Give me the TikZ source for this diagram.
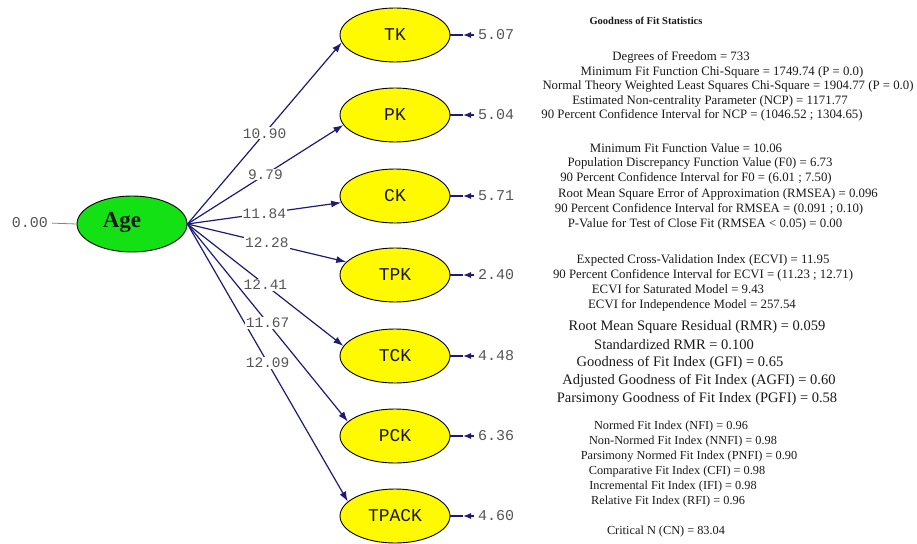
\documentclass[tikz,border=0pt]{standalone}
\usepackage{fontspec}
\setmainfont{Liberation Serif}
\newfontfamily\monof{Liberation Mono}
\usetikzlibrary{arrows.meta,shapes.geometric,calc}
\definecolor{navy}{RGB}{28,28,118}
\definecolor{lisyellow}{RGB}{255,250,0}
\definecolor{lisgreen}{RGB}{20,225,20}
\definecolor{labgray}{RGB}{85,85,85}
\definecolor{txt}{RGB}{25,25,25}
\definecolor{thingray}{RGB}{130,130,130}
\begin{document}
\begin{tikzpicture}[x=1pt,y=-1pt,
  latent/.style={ellipse,draw=black,line width=0.9pt,fill=lisyellow,minimum width=110pt,minimum height=54pt,inner sep=0pt,font=\monof\fontsize{18}{18}\selectfont,text=txt},
  agebox/.style={ellipse,draw=black,line width=0.9pt,fill=lisgreen,minimum width=110pt,minimum height=56pt,inner sep=0pt},
  pathline/.style={navy,line width=1.2pt,-{Latex[length=10pt,width=7pt]}},
  coef/.style={fill=white,inner sep=1pt,font=\monof\fontsize{14.5}{14.5}\selectfont,text=labgray},
  errline/.style={navy,line width=1.2pt},
  errtip/.style={navy,line width=1.2pt,-{Latex[length=8pt,width=6pt]}},
  errnum/.style={anchor=west,inner sep=0pt,font=\monof\fontsize{15}{15}\selectfont,text=labgray},
  st/.style={inner sep=0pt,text=txt,text height=0.7em,text depth=0.2em,font=\fontsize{12.8}{14}\selectfont},
  stbig/.style={st,font=\fontsize{14.5}{16}\selectfont},
  stsmall/.style={st,font=\fontsize{12.3}{14}\selectfont},
]
\useasboundingbox (0,0) rectangle (917,543);

% latent variables
\node[agebox] (age) at (132,224) {};
\node[inner sep=0pt,font=\bfseries\fontsize{23}{23}\selectfont,text=txt] (agelbl) at (122,222) {Age};
\node[latent] (tk) at (395,35) {TK};
\node[latent] (pk) at (395,115) {PK};
\node[latent] (ck) at (395,196) {CK};
\node[latent] (tpk) at (395,275) {TPK};
\node[latent] (tck) at (395,356) {TCK};
\node[latent] (pck) at (395,436) {PCK};
\node[latent] (tpack) at (395,516) {TPACK};

% Age variance
\node[errnum,anchor=center] (agev) at (30,223) {0.00};
\draw[thingray,line width=0.8pt,shorten <=4pt] (agev.east) -- (age.west);

% paths
\draw[pathline] (age.east) -- (tk.188);
\draw[pathline] (age.east) -- (pk.191);
\draw[pathline] (age.east) -- (ck.187);
\draw[pathline] (age.east) -- (tpk.165);
\draw[pathline] (age.east) -- (tck.169);
\draw[pathline] (age.east) -- (pck.163);
\draw[pathline] (age.east) -- (tpack.163);

\node[coef] (c1) at ($(age.east)!0.5!(tk.188)$) {10.90};
\node[coef] (c2) at ($(age.east)!0.5!(pk.191)$) {9.79};
\node[coef] (c3) at ($(age.east)!0.5!(ck.187)$) {11.84};
\node[coef] (c4) at ($(age.east)!0.5!(tpk.165)$) {12.28};
\node[coef] (c5) at ($(age.east)!0.5!(tck.169)$) {12.41};
\node[coef] (c6) at ($(age.east)!0.5!(pck.163)$) {11.67};
\node[coef] (c7) at ($(age.east)!0.5!(tpack.163)$) {12.09};

% error variances
\foreach \n/\y/\v in {tk/35/5.07,pk/115/5.04,ck/196/5.71,tpk/275/2.40,tck/356/4.48,pck/436/6.36,tpack/516/4.60}{
  \coordinate (\n m) at (463,\y);
  \coordinate (\n e) at (474,\y);
  \draw[errline] (\n.east) -- (\n m);
  \draw[errtip] (\n e) -- (\n m);
  \node[errnum] (\n v) at (478,\y) {\v};
}

% statistics
\node[st,font=\bfseries\fontsize{10.5}{12}\selectfont] (t0) at (646,22) {Goodness of Fit Statistics};
\node[st] (a1) at (681,58) {Degrees of Freedom = 733};
\node[st] (a2) at (722,73) {Minimum Fit Function Chi-Square = 1749.74 (P = 0.0)};
\node[st] (a3) at (728,87) {Normal Theory Weighted Least Squares Chi-Square = 1904.77 (P = 0.0)};
\node[st] (a4) at (710,102) {Estimated Non-centrality Parameter (NCP) = 1171.77};
\node[st] (a5) at (702,116) {90 Percent Confidence Interval for NCP = (1046.52 ; 1304.65)};
\node[st] (b1) at (686,150) {Minimum Fit Function Value = 10.06};
\node[st] (b2) at (700,164) {Population Discrepancy Function Value (F0) = 6.73};
\node[st] (b3) at (696,179) {90 Percent Confidence Interval for F0 = (6.01 ; 7.50)};
\node[st] (b4) at (718,195) {Root Mean Square Error of Approximation (RMSEA) = 0.096};
\node[st] (b5) at (709,210) {90 Percent Confidence Interval for RMSEA = (0.091 ; 0.10)};
\node[st] (b6) at (705,225) {P-Value for Test of Close Fit (RMSEA < 0.05) = 0.00};
\node[st] (d1) at (703,261) {Expected Cross-Validation Index (ECVI) = 11.95};
\node[st] (d2) at (703,276) {90 Percent Confidence Interval for ECVI = (11.23 ; 12.71)};
\node[st] (d3) at (678,291) {ECVI for Saturated Model = 9.43};
\node[st] (d4) at (692,306) {ECVI for Independence Model = 257.54};
\node[stbig] (e1) at (697,328) {Root Mean Square Residual (RMR) = 0.059};
\node[stbig] (e2) at (674,347) {Standardized RMR = 0.100};
\node[stbig] (e3) at (680,364) {Goodness of Fit Index (GFI) = 0.65};
\node[stbig] (e4) at (699,382) {Adjusted Goodness of Fit Index (AGFI) = 0.60};
\node[stbig] (e5) at (697,400) {Parsimony Goodness of Fit Index (PGFI) = 0.58};
\node[stsmall] (f1) at (671,427) {Normed Fit Index (NFI) = 0.96};
\node[stsmall] (f2) at (683,442) {Non-Normed Fit Index (NNFI) = 0.98};
\node[stsmall] (f3) at (689,457) {Parsimony Normed Fit Index (PNFI) = 0.90};
\node[stsmall] (f4) at (677,472) {Comparative Fit Index (CFI) = 0.98};
\node[stsmall] (f5) at (673,487) {Incremental Fit Index (IFI) = 0.98};
\node[stsmall] (f6) at (668,502) {Relative Fit Index (RFI) = 0.96};
\node[stsmall] (f7) at (666,532) {Critical N (CN) = 83.04};
\end{tikzpicture}
\end{document}
